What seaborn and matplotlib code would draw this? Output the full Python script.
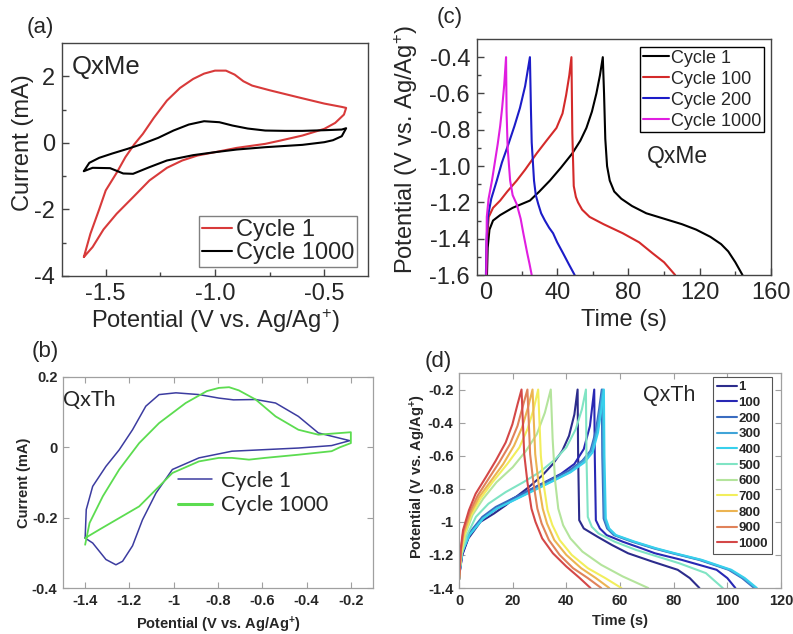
import matplotlib
matplotlib.use("Agg")
import matplotlib.pyplot as plt
import pandas as pd
import seaborn as sns
from matplotlib.ticker import FixedLocator, FormatStrFormatter

# ---- (a) QxMe cyclic voltammetry ----
a_c1_v = [-1.60, -1.57, -1.53, -1.50, -1.45, -1.41, -1.37, -1.33, -1.28, -1.22, -1.16, -1.10, -1.05,
          -1.00, -0.95, -0.91, -0.87, -0.83, -0.75, -0.62, -0.50, -0.42, -0.40,
          -0.41, -0.45, -0.50, -0.60, -0.70, -0.77, -0.90, -1.00, -1.08, -1.15, -1.22, -1.30, -1.37,
          -1.45, -1.51, -1.56, -1.60]
a_c1_i = [-3.43, -2.73, -2.00, -1.43, -0.90, -0.43, -0.05, 0.27, 0.75, 1.27, 1.65, 1.92, 2.08,
          2.17, 2.17, 2.05, 1.85, 1.72, 1.58, 1.37, 1.18, 1.08, 1.05,
          0.85, 0.60, 0.42, 0.22, 0.07, -0.03, -0.15, -0.28, -0.38, -0.53, -0.75, -1.13, -1.60,
          -2.13, -2.60, -3.13, -3.43]
a_c1000_v = [-1.60, -1.575, -1.53, -1.47, -1.40, -1.34, -1.26, -1.19, -1.12, -1.05, -0.98, -0.92,
             -0.85, -0.77, -0.68, -0.60, -0.50, -0.42, -0.40,
             -0.42, -0.46, -0.50, -0.60, -0.77, -0.90, -1.00, -1.10, -1.22, -1.30, -1.375, -1.42,
             -1.48, -1.56, -1.60]
a_c1000_i = [-0.85, -0.60, -0.45, -0.32, -0.18, -0.05, 0.15, 0.37, 0.55, 0.65, 0.62, 0.52,
             0.43, 0.37, 0.36, 0.36, 0.38, 0.40, 0.44,
             0.20, 0.08, 0.02, -0.06, -0.13, -0.20, -0.28, -0.37, -0.53, -0.73, -0.93, -0.92,
             -0.76, -0.75, -0.85]

# ---- (b) QxTh cyclic voltammetry ----
b_c1_v = [-1.40, -1.395, -1.366, -1.306, -1.246, -1.186, -1.126, -1.066, -0.99, -0.886, -0.796,
          -0.73, -0.63, -0.54, -0.437, -0.347, -0.205,
          -0.287, -0.437, -0.737, -0.886, -1.006, -1.08, -1.141, -1.186, -1.231, -1.261, -1.306,
          -1.366, -1.40]
b_c1_i = [-0.258, -0.177, -0.111, -0.054, -0.007, 0.05, 0.117, 0.15, 0.155, 0.15, 0.14,
          0.135, 0.136, 0.126, 0.088, 0.041, 0.019,
          0.005, -0.002, -0.011, -0.03, -0.063, -0.13, -0.206, -0.28, -0.324, -0.334, -0.319,
          -0.272, -0.258]
b_c1000_v = [-1.40, -1.38, -1.32, -1.246, -1.156, -1.066, -0.946, -0.85, -0.796, -0.75, -0.706,
             -0.63, -0.54, -0.437, -0.347, -0.20, -0.20,
             -0.25, -0.287, -0.437, -0.587, -0.66, -0.737, -0.796, -0.886, -1.006, -1.08, -1.156,
             -1.246, -1.336, -1.40]
b_c1000_i = [-0.277, -0.215, -0.139, -0.063, 0.012, 0.069, 0.126, 0.16, 0.169, 0.171, 0.162,
             0.136, 0.088, 0.05, 0.036, 0.043, 0.012,
             0.0, -0.011, -0.021, -0.03, -0.035, -0.03, -0.03, -0.04, -0.073, -0.12, -0.168,
             -0.201, -0.234, -0.258]

# ---- (c) QxMe charge/discharge ----
c_c1_t = [0.6, 1.0, 2.0, 4.0, 8.0, 15.0, 24.7, 30.0, 35.9, 42.0, 48.5, 53.0, 56.4, 59.5, 62.0, 64.0, 65.6,
          66.3, 67.0, 68.0, 69.5, 72.0, 76.0, 82.0, 90.0, 100.0, 110.0, 118.0, 126.0, 132.0, 136.0, 140.0, 144.0]
c_c1_v = [-1.6, -1.45, -1.35, -1.30, -1.27, -1.23, -1.19, -1.14, -1.08, -1.01, -0.93, -0.86, -0.79, -0.70, -0.60, -0.50, -0.40,
          -0.60, -0.85, -1.00, -1.08, -1.14, -1.18, -1.22, -1.26, -1.29, -1.32, -1.35, -1.39, -1.43, -1.47, -1.53, -1.6]
c_c100_t = [0.1, 0.6, 1.6, 4.0, 8.0, 12.0, 17.3, 22.0, 28.5, 34.0, 39.6, 43.0, 45.0, 46.8, 48.0,
            48.5, 49.3, 50.5, 51.7, 54.0, 58.2, 66.0, 76.8, 86.0, 93.5, 100.0, 106.2]
c_c100_v = [-1.6, -1.40, -1.28, -1.23, -1.19, -1.14, -1.08, -1.02, -0.93, -0.86, -0.79, -0.71, -0.61, -0.50, -0.40,
            -0.82, -1.11, -1.17, -1.20, -1.24, -1.28, -1.32, -1.37, -1.42, -1.48, -1.53, -1.6]
c_c200_t = [0.0, 0.4, 1.1, 3.0, 6.1, 9.0, 12.6, 16.0, 19.1, 22.0, 24.7,
            25.3, 25.7, 27.0, 28.0, 29.4, 31.0, 33.1, 35.5, 37.7, 40.0, 43.3, 46.5, 49.8]
c_c200_v = [-1.6, -1.40, -1.28, -1.18, -1.08, -0.98, -0.88, -0.78, -0.68, -0.56, -0.40,
            -0.70, -0.87, -1.08, -1.16, -1.21, -1.26, -1.30, -1.34, -1.37, -1.42, -1.48, -1.54, -1.6]
c_c1000_t = [0.2, 0.5, 1.5, 3.4, 5.0, 6.6, 8.0, 9.1, 10.3, 11.3,
             11.6, 12.2, 13.6, 15.0, 17.3, 19.5, 21.0, 22.2, 23.2, 24.5, 25.7]
c_c1000_v = [-1.6, -1.28, -1.18, -1.08, -0.98, -0.88, -0.78, -0.68, -0.55, -0.40,
             -0.70, -0.90, -1.08, -1.16, -1.21, -1.29, -1.37, -1.43, -1.48, -1.54, -1.6]

# ---- (d) QxTh charge/discharge, cycles 1..1000 ----
d_labels = ["1", "100", "200", "300", "400", "500", "600", "700", "800", "900", "1000"]
d_t_1 = [0, 0.3, 1.2, 3.5, 8, 13, 17.4, 22, 26, 31, 35, 38.5, 41, 43, 44.2, 44.4, 44.8, 46.5, 51.6,
         57, 63, 72, 81.5, 86, 89.6]
d_v_1 = [-1.35, -1.3, -1.2, -1.1, -1.0, -0.95, -0.9, -0.84, -0.79, -0.72, -0.65, -0.57, -0.48, -0.35,
         -0.2, -0.6, -0.99, -1.04, -1.09, -1.14, -1.19, -1.24, -1.29, -1.34, -1.4]
d_t_100 = [0, 0.3, 1.2, 3.7, 8.7, 14, 20, 26, 32, 38, 43, 46.5, 48.8, 50.4, 50.6, 51, 52.5, 55, 61,
           68, 73, 83, 96, 100, 103]
d_v_100 = [-1.35, -1.3, -1.2, -1.08, -0.98, -0.92, -0.86, -0.81, -0.76, -0.71, -0.65, -0.56, -0.42,
           -0.2, -0.6, -0.99, -1.04, -1.08, -1.12, -1.16, -1.19, -1.23, -1.29, -1.34, -1.4]
d_t_200 = [0, 0.3, 1.2, 3.7, 8.7, 13.7, 23.6, 33.6, 41, 46, 49, 51, 52.2, 53.2, 53.4, 53.9, 55.2,
           57.7, 64.5, 72.5, 79.5, 89.5, 100.5, 105.5, 110]
d_v_200 = [-1.35, -1.29, -1.17, -1.07, -0.97, -0.91, -0.83, -0.75, -0.69, -0.63, -0.57, -0.45, -0.32,
           -0.2, -0.6, -0.98, -1.04, -1.08, -1.12, -1.16, -1.19, -1.23, -1.29, -1.34, -1.4]
d_t_300 = [0, 0.3, 1.2, 3.8, 8.8, 13.9, 23.9, 33.9, 41.3, 46.4, 49.4, 51.4, 52.6, 53.6, 53.8, 54.3,
           55.6, 58.1, 65, 73, 80, 90, 101, 106, 110.5]
d_v_300 = [-1.35, -1.29, -1.18, -1.08, -0.98, -0.92, -0.84, -0.76, -0.70, -0.63, -0.57, -0.45, -0.32,
           -0.2, -0.6, -0.98, -1.04, -1.08, -1.12, -1.16, -1.19, -1.23, -1.29, -1.34, -1.4]
d_t_400 = [0, 0.3, 1.2, 3.9, 9, 14.1, 24.2, 34.2, 41.6, 46.8, 49.8, 51.8, 53, 54, 54.2, 54.7, 56,
           58.5, 65.5, 73.5, 80.5, 90.5, 101.5, 106.5, 111]
d_v_400 = [-1.35, -1.29, -1.18, -1.08, -0.98, -0.92, -0.84, -0.76, -0.70, -0.64, -0.58, -0.46, -0.33,
           -0.2, -0.6, -0.98, -1.04, -1.08, -1.12, -1.16, -1.19, -1.23, -1.29, -1.34, -1.4]
d_t_500 = [0, 0.3, 1, 3, 6.3, 11, 17.4, 24, 30, 36, 40, 43.5, 45.8, 47.3, 47.5, 48, 49.5, 52, 58, 66,
           72, 82, 92, 98.3]
d_v_500 = [-1.35, -1.29, -1.2, -1.08, -0.97, -0.89, -0.82, -0.76, -0.7, -0.62, -0.55, -0.44, -0.32,
           -0.2, -0.6, -0.97, -1.03, -1.07, -1.12, -1.17, -1.2, -1.25, -1.31, -1.4]
d_t_600 = [0, 0.3, 0.9, 2.5, 5, 9, 14, 20, 25, 29, 32, 34.2, 34.9, 35.8, 37, 38.8, 41.5, 46, 53, 61,
           70.5]
d_v_600 = [-1.35, -1.28, -1.19, -1.07, -0.96, -0.86, -0.76, -0.67, -0.57, -0.47, -0.34, -0.2, -0.5,
           -0.75, -0.92, -1.02, -1.1, -1.18, -1.26, -1.33, -1.4]
d_t_700 = [0, 0.3, 0.8, 2, 4.5, 8, 12.5, 18, 22.5, 25.5, 27.8, 29.5, 30.5, 31.6, 33, 34.8, 37.5, 42,
           48, 54.5, 60.5]
d_v_700 = [-1.35, -1.28, -1.19, -1.08, -0.96, -0.86, -0.76, -0.65, -0.55, -0.44, -0.32, -0.2, -0.6,
           -0.78, -0.93, -1.02, -1.11, -1.2, -1.28, -1.34, -1.4]
d_t_800 = [0, 0.3, 0.7, 1.8, 4.3, 7.5, 12, 16.5, 20.5, 23.5, 25.7, 27.4, 28.4, 29.6, 31.2, 32.8, 35.5,
           40, 45.5, 51, 56]
d_v_800 = [-1.35, -1.28, -1.18, -1.07, -0.95, -0.85, -0.75, -0.65, -0.54, -0.43, -0.31, -0.2, -0.59,
           -0.76, -0.92, -1.01, -1.11, -1.2, -1.28, -1.34, -1.4]
d_t_900 = [0, 0.3, 0.6, 1.6, 4, 7, 11, 15, 19, 21.8, 23.8, 25.5, 26.5, 27.7, 29.2, 30.8, 33.5, 37.5,
           42.5, 48, 53]
d_v_900 = [-1.35, -1.28, -1.18, -1.06, -0.94, -0.84, -0.74, -0.64, -0.53, -0.42, -0.3, -0.2, -0.59,
           -0.76, -0.92, -1.01, -1.11, -1.2, -1.28, -1.34, -1.4]
d_t_1000 = [0, 0.3, 0.6, 1.5, 3.7, 6.2, 10, 13.7, 17.4, 19.9, 21.8, 23.3, 24.3, 25.5, 27, 28.5, 31, 35,
            40, 45, 49]
d_v_1000 = [-1.35, -1.28, -1.17, -1.05, -0.93, -0.83, -0.73, -0.63, -0.52, -0.41, -0.29, -0.2, -0.59,
            -0.76, -0.92, -1.0, -1.1, -1.19, -1.27, -1.34, -1.4]
d_colors = ["#2c2c8c", "#2828b4", "#3a6cc0", "#40a4d8", "#38d0ec", "#80e4c4", "#b4e49c",
            "#f2ee5c", "#ecb452", "#e0825a", "#d44848"]

d_series = [d_t_1, d_t_100, d_t_200, d_t_300, d_t_400, d_t_500, d_t_600, d_t_700, d_t_800, d_t_900, d_t_1000]
d_values = [d_v_1, d_v_100, d_v_200, d_v_300, d_v_400, d_v_500, d_v_600, d_v_700, d_v_800, d_v_900, d_v_1000]

sns.set_style("ticks")
plt.rcParams['font.family'] = ['Liberation Sans', 'DejaVu Sans']
plt.rcParams['axes.unicode_minus'] = False
plt.rcParams['mathtext.fontset'] = 'custom'
plt.rcParams['mathtext.rm'] = 'Liberation Sans'
plt.rcParams['mathtext.bf'] = 'Liberation Sans:bold'
plt.rcParams['mathtext.default'] = 'regular'

W, H = 793, 634
fig = plt.figure(figsize=(W / 100, H / 100), dpi=100)


def px_axes(left, top, right, bottom):
    return fig.add_axes([left / W, 1 - bottom / H, (right - left) / W, (bottom - top) / H])


def origin_style(ax):
    for s in ax.spines.values():
        s.set_color('#444444')
        s.set_linewidth(1.0)
    ax.tick_params(which='both', direction='in', top=False, right=False, labelsize=17, pad=5)
    ax.tick_params(which='major', length=5, width=1, color='#444444')
    ax.tick_params(which='minor', length=3, width=1, color='#444444')


def matlab_style(ax):
    for s in ax.spines.values():
        s.set_color('#a0a0a0')
        s.set_linewidth(0.9)
    ax.tick_params(which='both', direction='in', top=True, right=True, length=4, width=0.8,
                   color='#a0a0a0', labelsize=10.5, pad=4)
    for lab in ax.get_xticklabels() + ax.get_yticklabels():
        lab.set_fontweight('bold')


# ---- panel (a) ----
ax = px_axes(62, 43, 368, 276)
sns.lineplot(x=a_c1_v, y=a_c1_i, sort=False, estimator=None, color='#d83a3a', lw=1.5, ax=ax, label='Cycle 1')
sns.lineplot(x=a_c1000_v, y=a_c1000_i, sort=False, estimator=None, color='black', lw=1.5, ax=ax, label='Cycle 1000')
ax.set_xlim(-1.70, -0.30)
ax.set_ylim(-4, 3)
ax.xaxis.set_major_locator(FixedLocator([-1.5, -1.0, -0.5]))
ax.xaxis.set_minor_locator(FixedLocator([-1.25, -0.75]))
ax.xaxis.set_major_formatter(FormatStrFormatter('%.1f'))
ax.yaxis.set_major_locator(FixedLocator([-4, -2, 0, 2]))
ax.yaxis.set_minor_locator(FixedLocator([-3, -1, 1]))
origin_style(ax)
ax.legend(loc='lower right', bbox_to_anchor=(0.964, 0.039), borderaxespad=0, fontsize=17,
          frameon=True, fancybox=False, edgecolor='#808080', framealpha=1, handlelength=1.3,
          handletextpad=0.15, labelspacing=0.05, borderpad=0.12)
ax.set_xlabel('')
ax.set_ylabel('')
fig.text(72 / W, 1 - 67 / H, 'QxMe', fontsize=18.5, ha='left', va='center')
fig.text(23 / W, 1 - 143 / H, 'Current (mA)', rotation=90, fontsize=17, ha='center', va='center')
fig.text(215 / W, 1 - 321 / H, r'Potential (V vs. Ag/Ag$^{+}$)', fontsize=17, ha='center', va='center')

# ---- panel (c) ----
ax = px_axes(477, 39, 771, 275)
sns.lineplot(x=c_c1_t, y=c_c1_v, sort=False, estimator=None, color='black', lw=1.5, ax=ax, label='Cycle 1')
sns.lineplot(x=c_c100_t, y=c_c100_v, sort=False, estimator=None, color='#d42a2a', lw=1.5, ax=ax, label='Cycle 100')
sns.lineplot(x=c_c200_t, y=c_c200_v, sort=False, estimator=None, color='#1c1cc8', lw=1.5, ax=ax, label='Cycle 200')
sns.lineplot(x=c_c1000_t, y=c_c1000_v, sort=False, estimator=None, color='#e01ee0', lw=1.5, ax=ax, label='Cycle 1000')
ax.set_xlim(-5, 160)
ax.set_ylim(-1.6, -0.3)
ax.xaxis.set_major_locator(FixedLocator([0, 40, 80, 120, 160]))
ax.xaxis.set_minor_locator(FixedLocator([20, 60, 100, 140]))
ax.yaxis.set_major_locator(FixedLocator([-1.6, -1.4, -1.2, -1.0, -0.8, -0.6, -0.4]))
ax.yaxis.set_minor_locator(FixedLocator([-1.5, -1.3, -1.1, -0.9, -0.7, -0.5]))
ax.yaxis.set_major_formatter(FormatStrFormatter('%.1f'))
origin_style(ax)
ax.legend(loc='upper right', bbox_to_anchor=(0.976, 0.966), borderaxespad=0, fontsize=13,
          frameon=True, fancybox=False, edgecolor='black', framealpha=1, handlelength=1.45,
          handletextpad=0.1, labelspacing=0.22, borderpad=0.15)
ax.set_xlabel('')
ax.set_ylabel('')
fig.text(647 / W, 1 - 157 / H, 'QxMe', fontsize=16.5, ha='left', va='center')
fig.text(406 / W, 1 - 150 / H, r'Potential (V vs. Ag/Ag$^{+}$)', rotation=90, fontsize=17, ha='center', va='center')
fig.text(624 / W, 1 - 320 / H, 'Time (s)', fontsize=17, ha='center', va='center')

# ---- panel (b) ----
ax = px_axes(63, 377, 373, 588)
sns.lineplot(x=b_c1_v, y=b_c1_i, sort=False, estimator=None, color='#3c3ca0', lw=1.1, ax=ax, label='Cycle 1')
sns.lineplot(x=b_c1000_v, y=b_c1000_i, sort=False, estimator=None, color='#5cdc50', lw=1.3, ax=ax, label='Cycle 1000')
ax.set_xlim(-1.5, -0.1)
ax.set_ylim(-0.4, 0.2)
ax.xaxis.set_major_locator(FixedLocator([-1.4, -1.2, -1.0, -0.8, -0.6, -0.4, -0.2]))
ax.xaxis.set_major_formatter(FormatStrFormatter('%g'))
ax.yaxis.set_major_locator(FixedLocator([-0.4, -0.2, 0, 0.2]))
ax.yaxis.set_major_formatter(FormatStrFormatter('%g'))
matlab_style(ax)
leg_b = ax.legend(loc='upper left', bbox_to_anchor=(0.371, 0.555), borderaxespad=0, frameon=False,
                  prop={'family': 'Lato', 'size': 15.5}, handlelength=1.6, handletextpad=0.4,
                  labelspacing=0.2, borderpad=0)
leg_b.get_lines()[1].set_linewidth(2.2)
ax.set_xlabel('')
ax.set_ylabel('')
fig.text(63 / W, 1 - 400 / H, 'QxTh', fontsize=15.5, family='Lato', ha='left', va='center')
fig.text(24 / W, 1 - 483 / H, 'Current (mA)', rotation=90, fontsize=10.5, fontweight='bold', ha='center', va='center')
fig.text(218 / W, 1 - 625 / H, r'Potential (V vs. Ag/Ag$^{\mathbf{+}}$)', fontsize=10.5, fontweight='bold', ha='center', va='center')

# ---- panel (d) ----
ax = px_axes(459, 373, 781, 588)
rows = []
for lab, ts, vs in zip(d_labels, d_series, d_values):
    for t, v in zip(ts, vs):
        rows.append({'t': t, 'V': v, 'cycle': lab})
df_d = pd.DataFrame(rows)
sns.lineplot(data=df_d, x='t', y='V', hue='cycle', hue_order=d_labels,
             palette=dict(zip(d_labels, d_colors)), sort=False, estimator=None, lw=1.5, ax=ax)
ax.set_xlim(0, 120)
ax.set_ylim(-1.4, -0.1)
ax.xaxis.set_major_locator(FixedLocator([0, 20, 40, 60, 80, 100, 120]))
ax.yaxis.set_major_locator(FixedLocator([-1.4, -1.2, -1.0, -0.8, -0.6, -0.4, -0.2]))
ax.yaxis.set_major_formatter(FormatStrFormatter('%g'))
matlab_style(ax)
handles, labels = ax.get_legend_handles_labels()
leg = ax.legend(handles, labels, loc='upper right', bbox_to_anchor=(0.972, 0.981), borderaxespad=0,
                frameon=True, fancybox=False, edgecolor='#555555', framealpha=1,
                prop={'weight': 'bold', 'size': 9.5}, handlelength=1.5, handletextpad=0.1,
                labelspacing=0.26, borderpad=0.3)
leg.get_frame().set_linewidth(0.8)
ax.set_xlabel('')
ax.set_ylabel('')
fig.text(643 / W, 1 - 395 / H, 'QxTh', fontsize=15.5, ha='left', va='center')
fig.text(418 / W, 1 - 477 / H, r'Potential (V vs. Ag/Ag$^{\mathbf{+}}$)', rotation=90, fontsize=10.5, fontweight='bold', ha='center', va='center')
fig.text(620 / W, 1 - 621 / H, 'Time (s)', fontsize=10.5, fontweight='bold', ha='center', va='center')

# panel letters
fig.text(40 / W, 1 - 27 / H, '(a)', fontsize=16, ha='center', va='center')
fig.text(45 / W, 1 - 352 / H, '(b)', fontsize=16, ha='center', va='center')
fig.text(450 / W, 1 - 17 / H, '(c)', fontsize=16, ha='center', va='center')
fig.text(438 / W, 1 - 362 / H, '(d)', fontsize=16, ha='center', va='center')

fig.savefig('out.png', dpi=100)
